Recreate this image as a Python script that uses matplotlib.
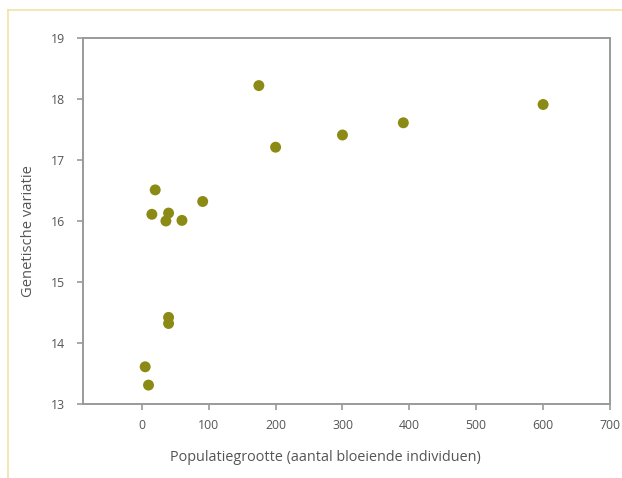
import matplotlib
matplotlib.use("Agg")
import matplotlib.pyplot as plt
from matplotlib.lines import Line2D

# Populatiegrootte vs genetische variatie
population = [5, 10, 15, 20, 36, 40, 40, 40, 60, 91, 175, 200, 300, 391, 600]
variation = [13.61, 13.31, 16.11, 16.51, 16.0, 16.13, 14.42, 14.32, 16.01, 16.32,
             18.22, 17.21, 17.41, 17.61, 17.91]

xticks = [0, 100, 200, 300, 400, 500, 600, 700]
yticks = [13, 14, 15, 16, 17, 18, 19]

plt.rcParams['font.family'] = ['Open Sans', 'DejaVu Sans']
text_color = '#555555'
spine_color = '#9a9a9a'

fig = plt.figure(figsize=(6.22, 4.78), dpi=100)
ax = fig.add_axes([0.1334, 0.1548, 0.8473, 0.7657])

ax.scatter(population, variation, s=62, color='#8a8a14', edgecolors='none', zorder=3)

ax.set_xlim(-88, 700)
ax.set_ylim(13, 19)
ax.set_xticks(xticks)
ax.set_yticks(yticks)

for s in ax.spines.values():
    s.set_color(spine_color)
    s.set_linewidth(1.4)

ax.tick_params(axis='both', direction='out', length=4, width=1.2, color=spine_color,
               labelcolor=text_color, labelsize=8.8, pad=9)
ax.tick_params(axis='x', pad=7)

ax.set_xlabel('Populatiegrootte (aantal bloeiende individuen)', color=text_color,
              fontsize=10.4)
ax.set_ylabel('Genetische variatie', color=text_color, fontsize=10.6)
# labels are not centred on the axes in the original
ax.xaxis.set_label_coords(0.46, -0.125)
ax.yaxis.set_label_coords(-0.09, 0.473)

# light yellow frame lines along the top and left edge
border = '#efe4a8'
fig.add_artist(Line2D([8 / 622, 1], [1 - 10 / 478, 1 - 10 / 478],
                      transform=fig.transFigure, color=border, lw=1.2))
fig.add_artist(Line2D([8 / 622, 8 / 622], [0, 1 - 10 / 478],
                      transform=fig.transFigure, color=border, lw=1.2))

fig.savefig('out.png', dpi=100)
